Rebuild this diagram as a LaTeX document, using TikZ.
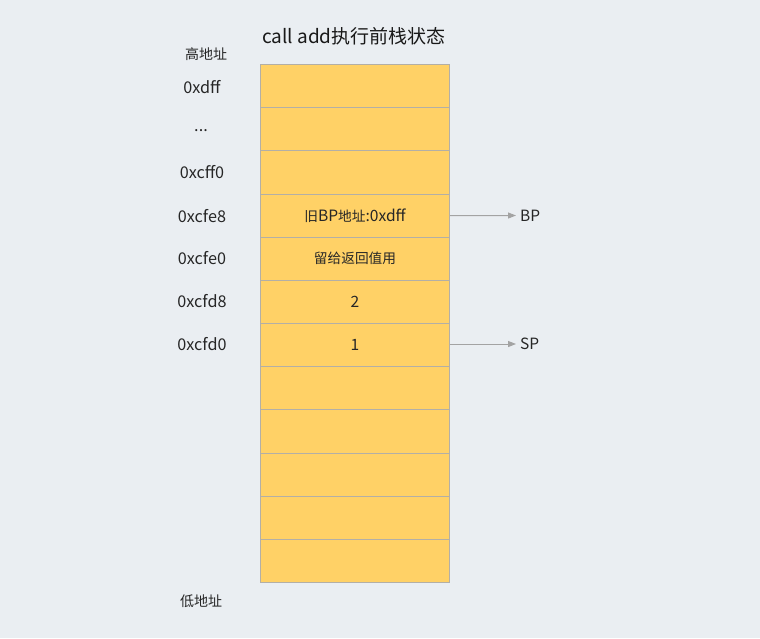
\documentclass[tikz,border=0pt]{standalone}
\usepackage{fontspec}
\setmainfont{Noto Sans CJK SC}
\usetikzlibrary{arrows.meta}
\definecolor{bgc}{HTML}{EAEEF2}
\definecolor{cellc}{HTML}{FFD166}
\definecolor{edgec}{HTML}{B3AFA6}
\definecolor{arrc}{HTML}{A3A3A3}
\newcommand\latc{\fontsize{15.6}{17}\selectfont}
\tikzset{
  cell/.style={draw=edgec, line width=1pt, fill=cellc, minimum width=189pt, minimum height=43.17pt, inner sep=0pt, anchor=north west, font=\fontsize{13.7}{15}\selectfont, text=black!85},
  addr/.style={font=\fontsize{16.2}{18}\selectfont, text=black!85, inner sep=0pt},
  cjkl/.style={font=\fontsize{14}{16}\selectfont, text=black!85, inner sep=0pt},
  ptr/.style={draw=arrc, line width=1pt, -{Triangle[length=8pt,width=6pt]}},
}
\begin{document}
\begin{tikzpicture}[x=1pt,y=-1pt]
\fill[bgc] (0,0) rectangle (760,638);
\useasboundingbox (0,0) rectangle (760,638);
\node[font=\fontsize{19}{22}\selectfont, text=black!90, inner sep=0pt] (title) at (354,36) {call add执行前栈状态};
\node[cjkl] (hi) at (206,54) {高地址};
\node[cjkl] (lo) at (201,601) {低地址};
\foreach \i/\t in {1/,2/,3/,4/{旧{\latc BP}地址{\latc :0xdff}},5/留给返回值用,6/{\latc 2},7/{\latc 1},8/,9/,10/,11/,12/}{
  \node[cell] (r\i) at (260,{64+(\i-1)*43.17}) {\t};
}
\node[addr] (a1) at (202,87) {0xdff};
\node[addr, anchor=base] (a2) at (201,131) {...};
\node[addr] (a3) at (202,172) {0xcff0};
\node[addr] (a4) at (202,216) {0xcfe8};
\node[addr] (a5) at (202,258) {0xcfe0};
\node[addr] (a6) at (202,301) {0xcfd8};
\node[addr] (a7) at (202,344) {0xcfd0};
\node[addr, anchor=west, font=\fontsize{15.5}{17}\selectfont] (bp) at (520,215.5) {BP};
\node[addr, anchor=west, font=\fontsize{15.5}{17}\selectfont] (sp) at (520,344) {SP};
\draw[ptr] (r4.east) -- ([xshift=-4pt]bp.west);
\draw[ptr] (r7.east |- sp.west) -- ([xshift=-4pt]sp.west);
\end{tikzpicture}
\end{document}
